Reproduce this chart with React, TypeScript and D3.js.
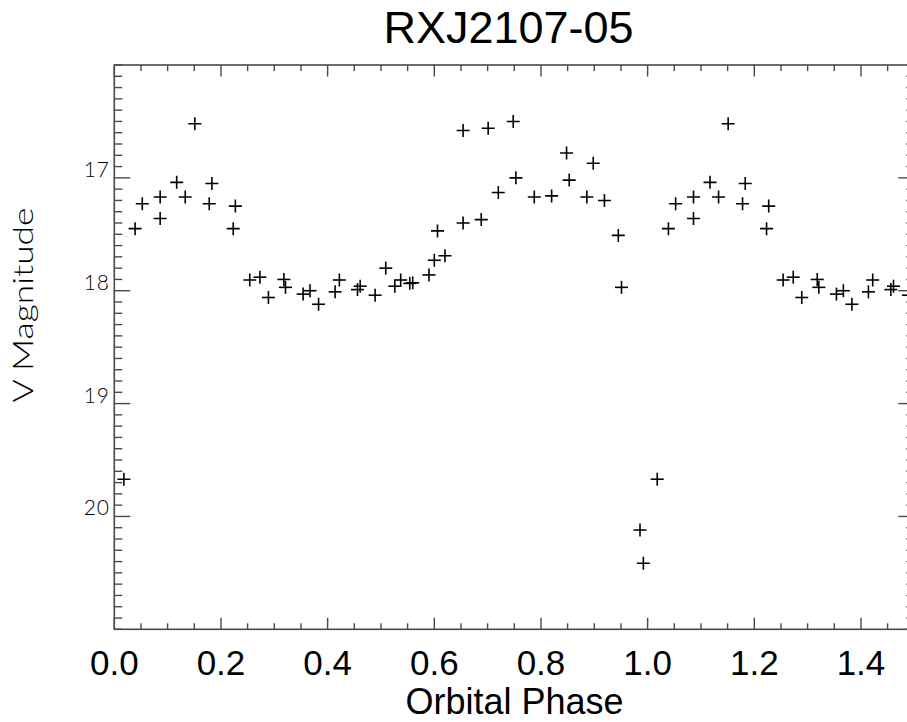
import React from "react";
import * as d3 from "d3";

// Base phase-folded observations (phase in [0,1), V magnitude)
const phases = [
  0.018, 0.039, 0.0525, 0.086, 0.086, 0.117, 0.133, 0.151, 0.178, 0.183,
  0.223, 0.227, 0.254, 0.273, 0.289, 0.318, 0.321, 0.354, 0.367, 0.383,
  0.414, 0.422, 0.456, 0.461, 0.489, 0.509, 0.526, 0.537, 0.554, 0.5595,
  0.590, 0.600, 0.606, 0.620, 0.654, 0.654, 0.688, 0.701, 0.720, 0.748,
  0.753, 0.7875, 0.820, 0.848, 0.853, 0.886, 0.898, 0.919, 0.945, 0.951,
  0.9857, 0.992,
];
const magnitudes = [
  19.67, 17.45, 17.23, 17.17, 17.36, 17.04, 17.17, 16.52, 17.23, 17.05,
  17.45, 17.25, 17.905, 17.88, 18.06, 17.90, 17.97, 18.03, 18.0, 18.12,
  18.01, 17.905, 17.99, 17.96, 18.04, 17.80, 17.96, 17.905, 17.935, 17.93,
  17.86, 17.73, 17.47, 17.69, 16.58, 17.40, 17.37, 16.56, 17.13, 16.50,
  17.0, 17.17, 17.16, 16.78, 17.02, 17.17, 16.87, 17.20, 17.51, 17.97,
  20.12, 20.415,
];

const xMajorTicks = [0.0, 0.2, 0.4, 0.6, 0.8, 1.0, 1.2, 1.4];
const yMajorTicks = [17, 18, 19, 20];

const title = "RXJ2107-05";
const xTitle = "Orbital Phase";
const yTitle = "V Magnitude";

export default function App() {
  const W = 907;
  const H = 722;
  const left = 114.3;
  const right = 914.3;
  const top = 65;
  const bottom = 629.3;

  const x = d3.scaleLinear().domain([0, 1.5]).range([left, right]);
  const y = d3.scaleLinear().domain([16, 21]).range([top, bottom]);

  const pts: { p: number; m: number }[] = [];
  phases.forEach((p, i) => {
    [p, p + 1].forEach((pp) => {
      if (pp >= 0 && pp <= 1.5) pts.push({ p: pp, m: magnitudes[i] });
    });
  });

  const xMinor = d3.range(0, 1.5001, 0.05);
  const yMinor = d3.range(16, 21.0001, 0.1);
  const axisColor = "#4a4a4a";
  const s = 6.5;

  return (
    <svg
      width={W}
      height={H}
      style={{ position: "absolute", left: 0, top: 0, background: "#fff" }}
    >
      <defs>
        <clipPath id="plotclip">
          <rect x={left} y={top} width={right - left} height={bottom - top} />
        </clipPath>
      </defs>
      {/* frame */}
      <rect
        x={left}
        y={top}
        width={right - left}
        height={bottom - top}
        fill="none"
        stroke={axisColor}
        strokeWidth={1.6}
      />
      {/* x ticks bottom & top */}
      {xMinor.map((v, i) => {
        const major = xMajorTicks.some((t) => Math.abs(t - v) < 1e-6);
        const len = major ? 11.5 : 6;
        const xx = x(v);
        return (
          <g key={"xt" + i} stroke={axisColor} strokeWidth={1.4}>
            <line x1={xx} x2={xx} y1={bottom} y2={bottom - len} />
            <line x1={xx} x2={xx} y1={top} y2={top + len} />
          </g>
        );
      })}
      {/* y ticks left & right */}
      {yMinor.map((v, i) => {
        const major = yMajorTicks.some((t) => Math.abs(t - v) < 1e-6);
        const len = major ? 16 : 8;
        const yy = y(v);
        return (
          <g key={"yt" + i} stroke={axisColor} strokeWidth={1.4}>
            <line x1={left} x2={left + len} y1={yy} y2={yy} />
            <line x1={right} x2={right - len} y1={yy} y2={yy} />
          </g>
        );
      })}
      {/* x tick labels */}
      {xMajorTicks.map((t) => (
        <text
          key={"xl" + t}
          x={x(t)}
          y={675}
          textAnchor="middle"
          fontFamily="'Liberation Sans', Arial, sans-serif"
          fontSize={35}
          fill="#000"
        >
          {t.toFixed(1)}
        </text>
      ))}
      {/* y tick labels */}
      {yMajorTicks.map((t) => (
        <text
          key={"yl" + t}
          x={110}
          y={y(t) - 1}
          textAnchor="end"
          fontFamily="Lato, 'DejaVu Sans', sans-serif"
          fontWeight={300}
          fontSize={21}
          letterSpacing={1}
          fill="#000"
        >
          {t}
        </text>
      ))}
      {/* points */}
      <g clipPath="url(#plotclip)" stroke="#000" strokeWidth={1.6}>
        {pts.map((d, i) => {
          const cx = x(d.p);
          const cy = y(d.m);
          return (
            <g key={"pt" + i}>
              <line x1={cx - s} x2={cx + s} y1={cy} y2={cy} />
              <line x1={cx} x2={cx} y1={cy - s} y2={cy + s} />
            </g>
          );
        })}
      </g>
      {/* title */}
      <text
        x={508.5}
        y={43}
        textAnchor="middle"
        fontFamily="'Liberation Sans', Arial, sans-serif"
        fontSize={45}
        fill="#000"
      >
        {title}
      </text>
      {/* x axis title */}
      <text
        x={514.5}
        y={714}
        textAnchor="middle"
        fontFamily="'Liberation Sans', Arial, sans-serif"
        fontSize={36}
        fill="#000"
      >
        {xTitle}
      </text>
      {/* y axis title */}
      <text
        transform={`translate(33,305) rotate(-90)`}
        textAnchor="middle"
        fontFamily="Lato, 'DejaVu Sans', sans-serif"
        fontWeight={300}
        fontSize={28}
        textLength={195}
        lengthAdjust="spacingAndGlyphs"
        fill="#000"
      >
        {yTitle}
      </text>
    </svg>
  );
}
